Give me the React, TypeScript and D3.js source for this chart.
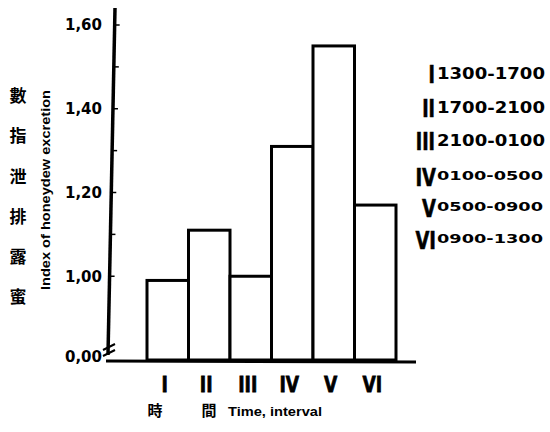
import React from 'react';
import * as d3 from 'd3';

// honeydew excretion index per time interval
const intervals = ['I', 'II', 'III', 'IV', 'V', 'VI'];
const indexValues = [0.99, 1.11, 1.0, 1.31, 1.55, 1.17];
const hours = ['1300-1700', '1700-2100', '2100-0100', '0100-0500', '0500-0900', '0900-1300'];
const majorTicks = [0.8, 1.0, 1.2, 1.4, 1.6];
const tickLabels = ['0,00', '1,00', '1,20', '1,40', '1,60'];
const minorTicks = [1.1, 1.3, 1.5];
const yTitleCjk = ['蜜', '露', '排', '泄', '指', '數'];

const W = 550;
const H = 432;
const numFont = '"DejaVu Sans", sans-serif';
const narrowFont = '"Liberation Sans", "DejaVu Sans", sans-serif';
const cjkFont = '"Noto Sans CJK TC", "Noto Sans CJK SC", sans-serif';

const App: React.FC = () => {
  // broken axis: the bottom of the scale (0.8) is labelled 0,00
  const y = d3.scaleLinear().domain([0.8, 1.6]).range([360, 25]);
  const x = d3.scaleBand().domain(intervals).range([147, 396]).padding(0);
  const base = y(0.8);

  // the drawn axis leans slightly to the left at the bottom
  const axisX = (py: number) => 108 + ((355 - py) / 347) * 7;

  const legendY = [74, 108, 141, 177, 208, 240];

  return (
    <div style={{ position: 'absolute', left: 0, top: 0 }}>
      <svg width={W} height={H} style={{ display: 'block', background: '#fff' }}>
        {/* bars */}
        {indexValues.map((v, i) => (
          <rect
            key={intervals[i]}
            x={x(intervals[i])}
            y={y(v)}
            width={x.bandwidth()}
            height={base - y(v)}
            fill="#fff"
            stroke="#000"
            strokeWidth={3}
          />
        ))}

        {/* axes */}
        <line x1={axisX(8)} y1={8} x2={axisX(355)} y2={355} stroke="#000" strokeWidth={3.5} />
        <line x1={106} y1={base + 1} x2={416} y2={base + 2} stroke="#000" strokeWidth={3} />
        {/* axis break */}
        <path d="M103,350 L115,344 M103,356 L115,350" stroke="#000" strokeWidth={2} fill="none" />

        {majorTicks.slice(1).map((t) => (
          <line key={t} x1={axisX(y(t))} y1={y(t)} x2={axisX(y(t)) + 5} y2={y(t)} stroke="#000" strokeWidth={1.5} />
        ))}
        {minorTicks.map((t) => (
          <line key={t} x1={axisX(y(t))} y1={y(t)} x2={axisX(y(t)) + 5} y2={y(t)} stroke="#000" strokeWidth={1.5} />
        ))}
        {majorTicks.map((t, i) => (
          <text
            key={t}
            x={102}
            y={i === 0 ? y(t) - 3 : y(t)}
            dy="0.36em"
            textAnchor="end"
            fontFamily={numFont}
            fontWeight="bold"
            fontSize={15}
          >
            {tickLabels[i]}
          </text>
        ))}

        {/* y titles */}
        {yTitleCjk.map((c, i) => (
          <text
            key={c}
            x={18}
            y={297 - i * 40.2}
            dy="0.36em"
            textAnchor="middle"
            fontFamily={cjkFont}
            fontWeight="bold"
            fontSize={17}
          >
            {c}
          </text>
        ))}
        <text
          transform="translate(45,190) rotate(-90)"
          textAnchor="middle"
          dy="0.36em"
          fontFamily={narrowFont}
          fontWeight="bold"
          fontSize={13}
          textLength={200}
          lengthAdjust="spacingAndGlyphs"
        >
          Index of honeydew excretion
        </text>

        {/* x labels, condensed heavy lettering */}
        {intervals.map((d) => (
          <g key={d} transform={`translate(${(x(d) as number) + x.bandwidth() / 2 - 3},384) scale(0.78,1)`}>
            <text
              dy="0.36em"
              textAnchor="middle"
              fontFamily={numFont}
              fontWeight="bold"
              fontSize={22}
              stroke="#000"
              strokeWidth={0.8}
            >
              {d}
            </text>
          </g>
        ))}
        <text x={155} y={411} dy="0.36em" textAnchor="middle" fontFamily={cjkFont} fontWeight="bold" fontSize={15}>
          時
        </text>
        <text x={209} y={411} dy="0.36em" textAnchor="middle" fontFamily={cjkFont} fontWeight="bold" fontSize={15}>
          間
        </text>
        <text
          x={228}
          y={411}
          dy="0.36em"
          fontFamily={narrowFont}
          fontWeight="bold"
          fontSize={13}
          textLength={94}
          lengthAdjust="spacingAndGlyphs"
        >
          Time, interval
        </text>

        {/* legend */}
        {intervals.map((d, i) => {
          const small = i >= 3;
          return (
            <g key={d}>
              <g transform={`translate(${small ? 436 : 435},${legendY[i]}) scale(0.72,1)`}>
                <text
                  dy="0.36em"
                  textAnchor="end"
                  fontFamily={numFont}
                  fontWeight="bold"
                  fontSize={small ? 25 : 24}
                  stroke="#000"
                  strokeWidth={0.6}
                >
                  {d}
                </text>
              </g>
              <text
                x={437}
                y={small ? legendY[i] - 2 : legendY[i]}
                dy="0.36em"
                fontFamily={numFont}
                fontWeight="bold"
                fontSize={small ? 13 : 15}
                textLength={small ? 106 : 108}
                lengthAdjust="spacingAndGlyphs"
              >
                {hours[i]}
              </text>
            </g>
          );
        })}
      </svg>
    </div>
  );
};

export default App;
